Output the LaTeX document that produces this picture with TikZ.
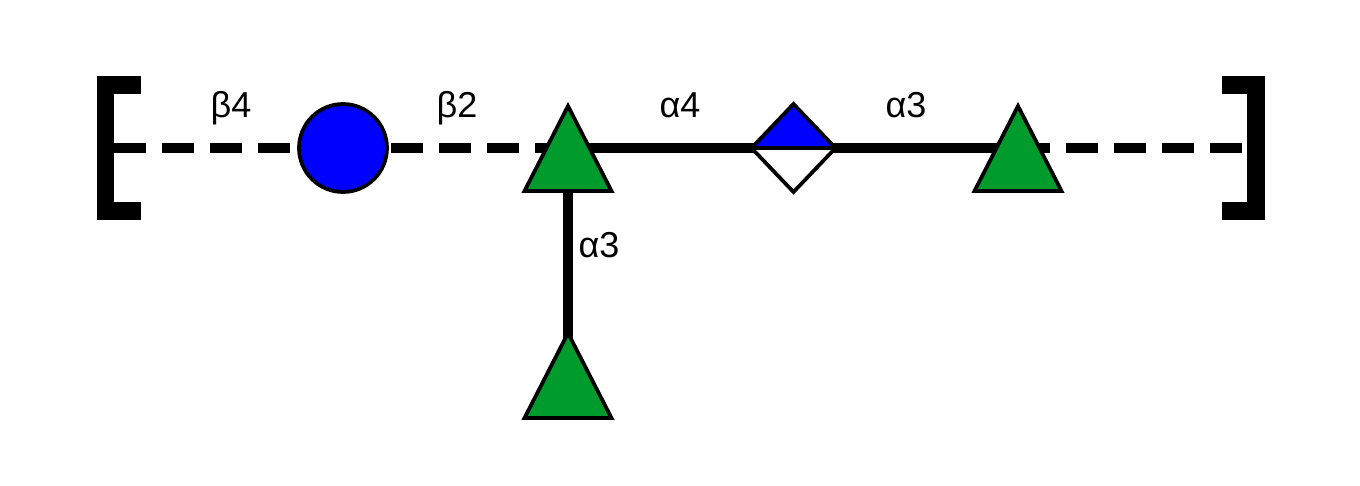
\documentclass[tikz,border=0pt]{standalone}
\usepackage{fontspec}
\setmainfont{Liberation Sans}
\usepackage{xcolor}
\usepackage{tikz}
\usetikzlibrary{calc}

\definecolor{snfgblue}{RGB}{0,0,255}
\definecolor{snfggreen}{RGB}{0,155,45}

\tikzset{
  bond/.style={line width=0.2cm},
  openbond/.style={bond, dash pattern=on 0.64cm off 0.32cm},
  bracket/.style={line width=0.36cm, line join=miter},
  sugarline/.style={line width=0.075cm, draw=black, line join=miter},
  linklabel/.style={font=\fontsize{20.5}{22}\selectfont, anchor=base, inner sep=0pt},
}

\newcommand{\sugartri}[1]{%
  \filldraw[sugarline, fill=snfggreen] ($(#1)+(0,-42)$) -- ($(#1)+(43.5,43)$) -- ($(#1)+(-43.5,43)$) -- cycle;}

\begin{document}
\begin{tikzpicture}[x=0.02cm,y=-0.02cm]
  \useasboundingbox (0,0) rectangle (1360,486);
  % residue positions
  \coordinate (lb) at (114,148);
  \coordinate (glc) at (343,148);
  \coordinate (tri1) at (568,148);
  \coordinate (dia) at (793.5,148);
  \coordinate (tri3) at (1018,148);
  \coordinate (tri2) at (568,375);
  \coordinate (rb) at (1247,148);

  % bonds
  \draw[openbond] (lb) -- (glc);
  \draw[openbond] (glc) -- (tri1);
  \draw[bond] (tri1) -- (dia);
  \draw[bond] (dia) -- (tri3);
  \draw[openbond] (tri3) -- (rb);
  \draw[bond] (tri1) -- (tri2);

  % brackets
  \draw[bracket] (141,85) -- (105.5,85) -- (105.5,211) -- (141,211);
  \draw[bracket] (1222,85) -- (1256,85) -- (1256,211) -- (1222,211);

  % residues
  \filldraw[sugarline, fill=snfgblue] (glc) circle (0.88cm);
  \sugartri{tri1}
  \sugartri{tri2}
  \sugartri{tri3}
  \fill[white] ($(dia)+(-42,0)$) -- ($(dia)+(0,44)$) -- ($(dia)+(42,0)$) -- cycle;
  \fill[snfgblue] ($(dia)+(-42,0)$) -- ($(dia)+(0,-44)$) -- ($(dia)+(42,0)$) -- cycle;
  \draw[sugarline] ($(dia)+(-42,0)$) -- ($(dia)+(0,-44)$) -- ($(dia)+(42,0)$) -- ($(dia)+(0,44)$) -- cycle;
  \draw[sugarline] ($(dia)+(-42,0)$) -- ($(dia)+(42,0)$);

  % linkage labels
  \node[linklabel] (l1) at (231,118) {β4};
  \node[linklabel] (l2) at (457,118) {β2};
  \node[linklabel] (l3) at (680,118) {α4};
  \node[linklabel] (l4) at (906,118) {α3};
  \node[linklabel] (l5) at (599,258) {α3};
\end{tikzpicture}
\end{document}
